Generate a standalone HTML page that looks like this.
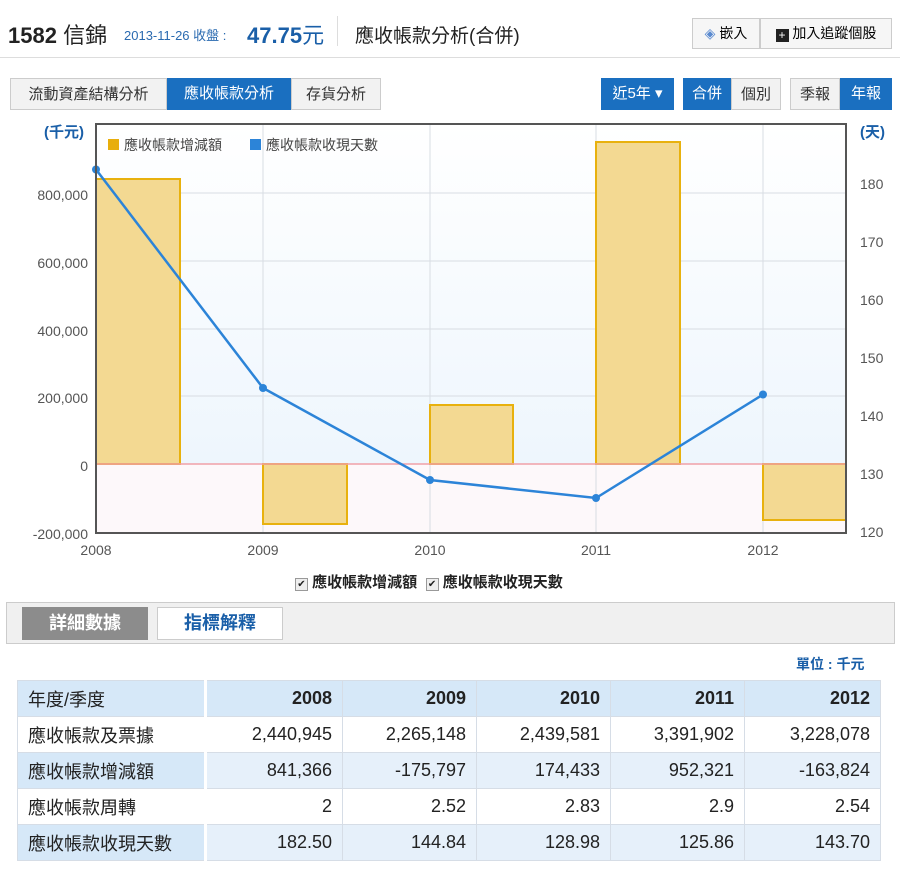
<!DOCTYPE html><html><head><meta charset="utf-8"><style>
body{margin:0;width:900px;height:872px;background:#fff;font-family:"Liberation Sans","Noto Sans CJK TC",sans-serif;position:relative;overflow:hidden}
.a{position:absolute;white-space:nowrap}
.btn{position:absolute;height:32px;line-height:32px;font-size:15px;text-align:center;box-sizing:border-box}
table{position:absolute;left:17px;top:680px;border-collapse:collapse;font-size:18px;table-layout:fixed;width:863px}
td{height:35px;border:1px solid #d6dde6;padding:0 10px;text-align:right;color:#222}
td:first-child{text-align:left;border-right:3px solid #fff}
tr.b td{background:#e6f0fa}
tr.h td{background:#d6e8f8;font-weight:bold}
tr.h td:first-child{font-weight:normal}
tr.b td:first-child{background:#d6e8f8}
</style></head><body>
<div class="a" style="left:8px;top:18px;font-size:22px;color:#222"><b>1582</b> 信錦</div>
<div class="a" style="left:124px;top:25px;font-size:13px;color:#2a6ab0">2013-11-26 收盤 :</div>
<div class="a" style="left:247px;top:18px;font-size:22px;color:#1a5fa8"><b>47.75</b>元</div>
<div class="a" style="left:337px;top:16px;width:1px;height:30px;background:#ddd"></div>
<div class="a" style="left:355px;top:21px;font-size:19px;color:#222">應收帳款分析(合併)</div>
<div class="btn" style="left:692px;top:18px;width:68px;height:31px;border:1px solid #ccc;background:#f6f6f6;font-size:14px;line-height:29px"><span style="color:#5a8ad0">◈</span> 嵌入</div>
<div class="btn" style="left:760px;top:18px;width:132px;height:31px;border:1px solid #ccc;background:#f6f6f6;font-size:14px;line-height:29px"><span style="display:inline-block;width:13px;height:13px;background:#222;color:#fff;font-size:12px;line-height:13px;vertical-align:-1px">+</span> 加入追蹤個股</div>
<div class="a" style="left:0;top:57px;width:900px;height:1px;background:#ddd"></div>
<div class="btn" style="left:10px;top:78px;width:157px;border:1px solid #ccc;background:#f2f2f2;color:#333">流動資產結構分析</div>
<div class="btn" style="left:167px;top:78px;width:124px;background:#1a6fc0;color:#fff">應收帳款分析</div>
<div class="btn" style="left:291px;top:78px;width:90px;border:1px solid #ccc;background:#f2f2f2;color:#333">存貨分析</div>
<div class="btn" style="left:601px;top:78px;width:73px;background:#1a6fc0;color:#fff">近5年 ▾</div>
<div class="btn" style="left:683px;top:78px;width:48px;background:#1a6fc0;color:#fff">合併</div>
<div class="btn" style="left:731px;top:78px;width:50px;border:1px solid #ccc;background:#f2f2f2;color:#333">個別</div>
<div class="btn" style="left:790px;top:78px;width:50px;border:1px solid #ccc;background:#f2f2f2;color:#333">季報</div>
<div class="btn" style="left:840px;top:78px;width:52px;background:#1a6fc0;color:#fff">年報</div>
<svg class="a" style="left:0;top:115px" width="900" height="440" viewBox="0 115 900 440" font-family="Liberation Sans,Noto Sans CJK TC,sans-serif">
<defs><linearGradient id="g" x1="0" y1="0" x2="0" y2="1"><stop offset="0" stop-color="#fff"/><stop offset="1" stop-color="#eef6fd"/></linearGradient></defs>
<rect x="96" y="124" width="750" height="340" fill="url(#g)"/>
<rect x="96" y="464" width="750" height="69" fill="#fdf8fa"/>
<g stroke="#d8dde3" stroke-width="1">
<line x1="96" y1="193" x2="846" y2="193"/><line x1="96" y1="261" x2="846" y2="261"/><line x1="96" y1="329" x2="846" y2="329"/><line x1="96" y1="396" x2="846" y2="396"/>
<line x1="263" y1="124" x2="263" y2="533"/><line x1="430" y1="124" x2="430" y2="533"/><line x1="596" y1="124" x2="596" y2="533"/><line x1="763" y1="124" x2="763" y2="533"/>
</g>
<g fill="#f3d992" stroke="#e8b10e" stroke-width="2">
<rect x="96" y="179" width="84" height="285"/>
<rect x="263" y="464" width="84" height="60"/>
<rect x="430" y="405" width="83" height="59"/>
<rect x="596" y="142" width="84" height="322"/>
<rect x="763" y="464" width="83" height="56"/>
</g>
<line x1="96" y1="464" x2="846" y2="464" stroke="#f0a0a8" stroke-width="1.5"/>
<polyline points="96,169.5 263,388 430,480 596,498 763,394.5" fill="none" stroke="#2c84d8" stroke-width="2.5"/>
<g fill="#2c84d8"><circle cx="96" cy="169.5" r="4"/><circle cx="263" cy="388" r="4"/><circle cx="430" cy="480" r="4"/><circle cx="596" cy="498" r="4"/><circle cx="763" cy="394.5" r="4"/></g>
<rect x="96" y="124" width="750" height="409" fill="none" stroke="#555" stroke-width="2"/>
<rect x="108" y="139" width="11" height="11" fill="#e8ae0c"/><text x="124" y="150" font-size="14" fill="#444">應收帳款增減額</text>
<rect x="250" y="139" width="11" height="11" fill="#2c84d8"/><text x="266" y="150" font-size="14" fill="#444">應收帳款收現天數</text>
<g font-size="14" fill="#555" text-anchor="end">
<text x="88" y="200">800,000</text><text x="88" y="268">600,000</text><text x="88" y="336">400,000</text><text x="88" y="403">200,000</text><text x="88" y="471">0</text><text x="88" y="539">-200,000</text>
</g>
<g font-size="14" fill="#555">
<text x="860" y="189">180</text><text x="860" y="247">170</text><text x="860" y="305">160</text><text x="860" y="363">150</text><text x="860" y="421">140</text><text x="860" y="479">130</text><text x="860" y="537">120</text>
</g>
<g font-size="14" fill="#555" text-anchor="middle"><text x="96" y="555">2008</text><text x="263" y="555">2009</text><text x="430" y="555">2010</text><text x="596" y="555">2011</text><text x="763" y="555">2012</text></g>
<text x="44" y="137" font-size="15" fill="#1a5fa8" font-weight="bold">(千元)</text>
<text x="860" y="137" font-size="15" fill="#1a5fa8" font-weight="bold">(天)</text>
</svg>
<div class="a" style="left:295px;top:571px;font-size:15px;color:#222"><span style="display:inline-block;width:11px;height:11px;border:1px solid #999;background:#eee;font-size:10px;line-height:11px;text-align:center">✔</span> <b>應收帳款增減額</b>&nbsp;&nbsp;<span style="display:inline-block;width:11px;height:11px;border:1px solid #999;background:#eee;font-size:10px;line-height:11px;text-align:center">✔</span> <b>應收帳款收現天數</b></div>
<div class="a" style="left:6px;top:602px;width:887px;height:40px;background:#f0f0f0;border:1px solid #ccc"></div>
<div class="btn" style="left:22px;top:607px;width:126px;height:33px;line-height:33px;background:#8c8c8c;color:#fff;font-size:18px;font-weight:bold">詳細數據</div>
<div class="btn" style="left:157px;top:607px;width:126px;height:33px;line-height:31px;background:#fff;border:1px solid #ccc;color:#1a5fa8;font-size:18px;font-weight:bold">指標解釋</div>
<div class="a" style="left:796px;top:654px;font-size:14px;color:#1a5fa8;font-weight:bold">單位 : 千元</div>
<table>
<colgroup><col style="width:188px"><col style="width:137px"><col style="width:134px"><col style="width:134px"><col style="width:134px"><col style="width:136px"></colgroup>
<tr class="h"><td>年度/季度</td><td>2008</td><td>2009</td><td>2010</td><td>2011</td><td>2012</td></tr>
<tr><td>應收帳款及票據</td><td>2,440,945</td><td>2,265,148</td><td>2,439,581</td><td>3,391,902</td><td>3,228,078</td></tr>
<tr class="b"><td>應收帳款增減額</td><td>841,366</td><td>-175,797</td><td>174,433</td><td>952,321</td><td>-163,824</td></tr>
<tr><td>應收帳款周轉</td><td>2</td><td>2.52</td><td>2.83</td><td>2.9</td><td>2.54</td></tr>
<tr class="b"><td>應收帳款收現天數</td><td>182.50</td><td>144.84</td><td>128.98</td><td>125.86</td><td>143.70</td></tr>
</table>
</body></html>
